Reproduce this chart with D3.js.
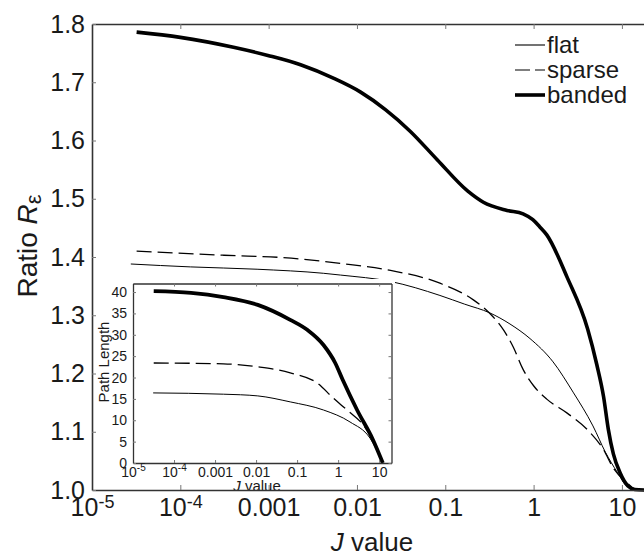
<!DOCTYPE html>
<html><head><meta charset="utf-8">
<script src="https://cdn.jsdelivr.net/npm/d3@7"></script>
<style>
body{margin:0;background:#fff}
svg{display:block}
text{font-family:"Liberation Sans",Arial,Helvetica,sans-serif;fill:#1a1a1a}
</style>
</head><body><svg id="c" width="644" height="557"></svg>
<script>
// ---------- data ----------
const tickValues = [1e-5, 1e-4, 1e-3, 1e-2, 0.1, 1, 10];
const tickLabels = [["10","-5"], ["10","-4"], ["0.001"], ["0.01"], ["0.1"], ["1"], ["10"]];
const mainYTicks = [1.0, 1.1, 1.2, 1.3, 1.4, 1.5, 1.6, 1.7, 1.8];
const insetYTicks = [0, 5, 10, 15, 20, 25, 30, 35, 40];
const seriesNames = ["flat", "sparse", "banded"];

// main chart: ratio R_eps vs J
const flatJ   = [2.75e-5, 1.3e-4, 7.4e-4, 4.2e-3, 6.5e-3, 0.024, 0.087, 0.166, 0.32, 0.54, 0.91, 1.66, 2.8, 4.7, 6.5, 8.9, 11.5, 15.8];
const flatR   = [1.388, 1.383, 1.379, 1.372, 1.369, 1.358, 1.334, 1.319, 1.304, 1.285, 1.260, 1.220, 1.168, 1.110, 1.065, 1.030, 1.006, 1.0];
const sparseJ = [3.2e-5, 3.1e-4, 1.8e-3, 6.5e-3, 0.024, 0.087, 0.21, 0.32, 0.46, 0.59, 0.76, 1.0, 1.41, 2.4, 4.1, 6.2, 7.9, 11.5, 14, 18];
const sparseR = [1.410, 1.403, 1.398, 1.389, 1.377, 1.355, 1.326, 1.303, 1.274, 1.245, 1.207, 1.179, 1.156, 1.132, 1.103, 1.069, 1.039, 1.012, 1.002, 1.0];
const bandedJ = [3.2e-5, 1e-4, 4e-4, 9.8e-4, 2.3e-3, 5.4e-3, 0.011, 0.021, 0.04, 0.081, 0.18, 0.27, 0.5, 0.76, 0.98, 1.17, 1.41, 2.4, 4.1, 5.2, 6.2, 7.0, 8.0, 9.5, 11.7, 14, 18];
const bandedR = [1.786, 1.777, 1.760, 1.746, 1.730, 1.707, 1.683, 1.653, 1.616, 1.567, 1.513, 1.494, 1.480, 1.474, 1.464, 1.452, 1.438, 1.365, 1.276, 1.215, 1.160, 1.105, 1.062, 1.030, 1.007, 1.001, 1.0];

// inset: path length vs J
const insetFlatJ   = [3.1e-5, 1.6e-3, 0.011, 0.068, 0.44, 1.95, 6.0, 12.3];
const insetFlatL   = [16.4, 16.1, 15.7, 14.3, 12.4, 9.6, 5.8, 0];
const insetSparseJ = [3.2e-5, 1.6e-3, 0.011, 0.068, 0.31, 0.76, 1.74, 4.1, 7.1, 12.3];
const insetSparseL = [23.4, 23.2, 22.5, 21.1, 18.7, 15.2, 12.2, 8.9, 5.4, 0];
const insetBandedJ = [3.2e-5, 2.6e-4, 1.6e-3, 0.011, 0.068, 0.18, 0.44, 0.85, 1.3, 2.9, 7.1, 12.3];
const insetBandedL = [40.2, 39.8, 38.8, 37.0, 33.5, 31.1, 27.6, 23.4, 19.4, 12.4, 5.4, 0];

// ---------- styles ----------
const styleOf = {
  flat:   {w: 1.0, dash: null},
  sparse: {w: 1.3, dash: "15,6"},
  banded: {w: 3.6, dash: null}
};

const svg = d3.select("#c");
const zip = (a, b) => a.map((v, i) => [v, b[i]]);

// ---------- main scales ----------
const x = d3.scaleLog().domain([1e-5, 20]).range([92, 648.5]);
const y = d3.scaleLinear().domain([1.0, 1.8]).range([490, 24]);

const mainData = {
  flat: zip(flatJ, flatR),
  sparse: zip(sparseJ, sparseR),
  banded: zip(bandedJ, bandedR)
};
const line = d3.line().x(d => x(d[0])).y(d => y(d[1])).curve(d3.curveMonotoneX);
seriesNames.forEach(n => {
  svg.append("path").datum(mainData[n]).attr("d", line)
    .attr("fill", "none").attr("stroke", "#000")
    .attr("stroke-width", styleOf[n].w)
    .attr("stroke-dasharray", styleOf[n].dash)
    .attr("stroke-linejoin", "round");
});

// ---------- inset ----------
svg.append("rect").attr("x", 97).attr("y", 279).attr("width", 298).attr("height", 210).attr("fill", "#fff");
const xi = d3.scaleLog().domain([1e-5, 20]).range([133, 391.5]);
const yi = d3.scaleLinear().domain([0, 42]).range([463, 283.5]);
const insetData = {
  flat: zip(insetFlatJ, insetFlatL),
  sparse: zip(insetSparseJ, insetSparseL),
  banded: zip(insetBandedJ, insetBandedL)
};
const lineI = d3.line().x(d => xi(d[0])).y(d => yi(d[1])).curve(d3.curveMonotoneX);
seriesNames.forEach(n => {
  svg.append("path").datum(insetData[n]).attr("d", lineI)
    .attr("fill", "none").attr("stroke", "#000")
    .attr("stroke-width", n === "banded" ? 3.8 : styleOf[n].w)
    .attr("stroke-dasharray", styleOf[n].dash)
    .attr("stroke-linejoin", "round");
});

function styleAxis(g, fs, domainW) {
  g.selectAll(".tick line").attr("stroke", "#777").attr("stroke-width", 1);
  g.select(".domain").attr("stroke", "#333").attr("stroke-width", domainW);
  g.selectAll("text").attr("font-size", fs).attr("fill", "#1a1a1a").attr("font-family", null);
}
function supLabels(g, supFs, supDy) {
  g.selectAll(".tick text").each(function(d) {
    const i = tickValues.indexOf(d);
    const t = d3.select(this).text(null);
    const lab = tickLabels[i];
    t.append("tspan").text(lab[0]);
    if (lab.length > 1) t.append("tspan").attr("font-size", supFs).attr("dy", supDy).text(lab[1]);
  });
}

// inset axes
const giB = svg.append("g").attr("transform", "translate(0,463)")
  .call(d3.axisBottom(xi).tickValues(tickValues).tickSizeInner(-3).tickSizeOuter(0).tickPadding(4));
styleAxis(giB, 14, 1.3); supLabels(giB, 10, -6);
const giT = svg.append("g").attr("transform", "translate(0,283.5)")
  .call(d3.axisTop(xi).tickValues(tickValues).tickSizeInner(-3).tickSizeOuter(0).tickFormat(""));
styleAxis(giT, 14, 1.3);
const giL = svg.append("g").attr("transform", "translate(133,0)")
  .call(d3.axisLeft(yi).tickValues(insetYTicks).tickSizeInner(-3).tickSizeOuter(0).tickPadding(6));
styleAxis(giL, 14, 1.3);
const giR = svg.append("g").attr("transform", "translate(391.5,0)")
  .call(d3.axisRight(yi).tickValues(insetYTicks).tickSizeInner(-3).tickSizeOuter(0).tickFormat(""));
styleAxis(giR, 14, 1.3);

svg.append("text").attr("transform", "translate(109,362) rotate(-90)")
  .attr("text-anchor", "middle").attr("font-size", 15).text("Path Length");
const ijl = svg.append("text").attr("x", 257).attr("y", 491).attr("text-anchor", "middle").attr("font-size", 15);
ijl.append("tspan").attr("font-style", "italic").text("J");
ijl.append("tspan").text(" value");

// ---------- main axes ----------
const gB = svg.append("g").attr("transform", "translate(0,490)")
  .call(d3.axisBottom(x).tickValues(tickValues).tickSizeInner(-5).tickSizeOuter(0).tickPadding(8));
styleAxis(gB, 25, 1.6); supLabels(gB, 18, -8);
const gT = svg.append("g").attr("transform", "translate(0,24)")
  .call(d3.axisTop(x).tickValues(tickValues).tickSizeInner(-5).tickSizeOuter(0).tickFormat(""));
styleAxis(gT, 25, 1.6);
const gL = svg.append("g").attr("transform", "translate(92,0)")
  .call(d3.axisLeft(y).tickValues(mainYTicks).tickSizeInner(-4).tickSizeOuter(0).tickPadding(7).tickFormat(d3.format(".1f")));
styleAxis(gL, 25, 1.6);

// axis titles
const xl = svg.append("text").attr("x", 372).attr("y", 551).attr("text-anchor", "middle").attr("font-size", 26);
xl.append("tspan").attr("font-style", "italic").text("J");
xl.append("tspan").text(" value");
const yl = svg.append("text").attr("transform", "translate(37,246) rotate(-90)")
  .attr("text-anchor", "middle").attr("font-size", 28);
yl.append("tspan").text("Ratio ");
yl.append("tspan").attr("font-style", "italic").text("R");
yl.append("tspan").attr("font-size", 22).attr("dy", 4).text("ε");

// ---------- legend ----------
const lg = svg.append("g");
seriesNames.forEach((n, i) => {
  const cy = 45 + i * 25;
  lg.append("line").attr("x1", 515).attr("x2", 545).attr("y1", cy).attr("y2", cy)
    .attr("stroke", "#000").attr("stroke-width", n === "banded" ? 3.6 : 1.1)
    .attr("stroke-dasharray", n === "sparse" ? "15,5" : null);
  lg.append("text").attr("x", 547).attr("y", cy + 8).attr("font-size", 24).text(n);
});
</script>
</body></html>
